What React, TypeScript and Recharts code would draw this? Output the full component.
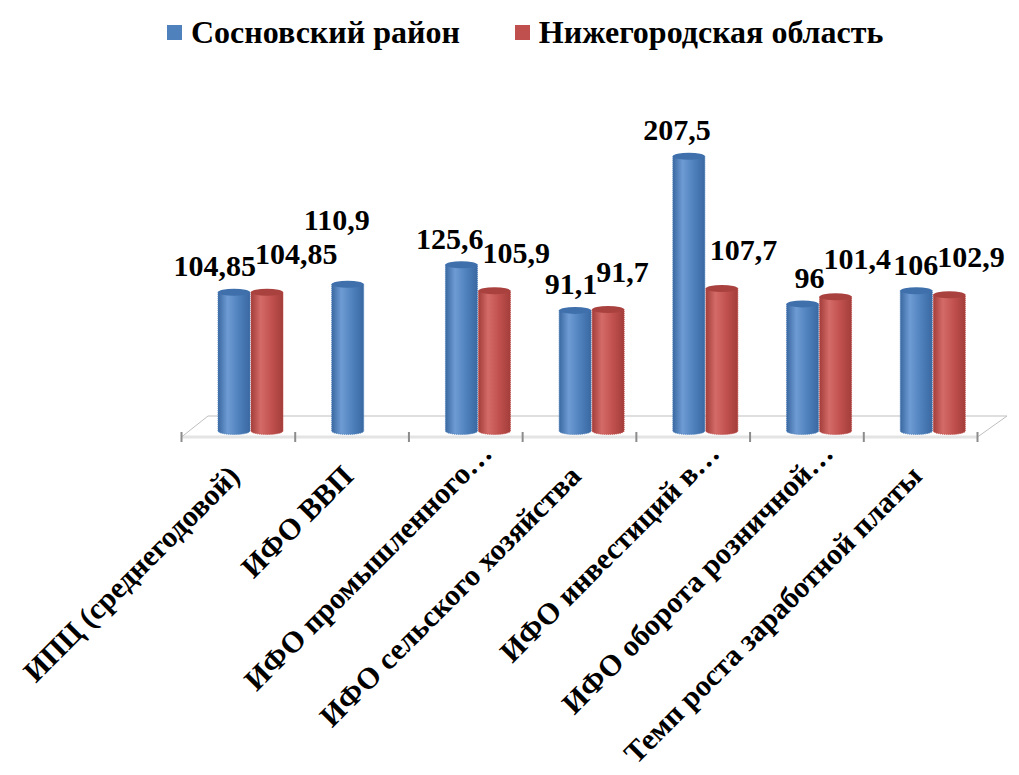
import React from 'react';
import { BarChart, Bar, XAxis, YAxis, Legend, LabelList } from 'recharts';

// Categories as they appear (truncated) on the original axis
const categories = [
  'ИПЦ (среднегодовой)',
  'ИФО ВВП',
  'ИФО промышленного…',
  'ИФО сельского хозяйства',
  'ИФО инвестиций в…',
  'ИФО оборота розничной…',
  'Темп роста заработной платы',
];

const sosnovskyValues: (number | null)[] = [104.85, 110.9, 125.6, 91.1, 207.5, 96, 106];
const oblastValues: (number | null)[] = [104.85, null, 105.9, 91.7, 107.7, 101.4, 102.9];

const seriesNames = ['Сосновский район', 'Нижегородская область'];

const data = categories.map((name, i) => ({
  name,
  sosn: sosnovskyValues[i],
  obl: oblastValues[i],
}));

const W = 1019;
const H = 775;
const PLOT_LEFT = 194;
const PLOT_RIGHT = 990;
const PLOT_TOP = 100;
const BASE_Y = 431;
const AXIS_H = 330;
const FONT = 'Liberation Serif, Times New Roman, Tinos, DejaVu Serif, serif';

const palette = {
  blue: { base: '#4F81BD', light: '#6E9BD3', dark: '#3A68A1', top: '#3F70AC' },
  red: { base: '#C0504D', light: '#D46B68', dark: '#A33E3B', top: '#A9423F' },
};

const fmt = (v: number) => String(v).replace('.', ',');

function Cylinder(props: any) {
  const { x, y, width, height, index, colors, id } = props;
  if (height == null || height <= 0 || x == null) return null;
  const gid = `${id}-${index}`;
  const rx = width / 2;
  const ry = 3.5;
  return (
    <g>
      <defs>
        <linearGradient id={gid} x1="0" y1="0" x2="1" y2="0">
          <stop offset="0" stopColor={colors.dark} />
          <stop offset="0.3" stopColor={colors.light} />
          <stop offset="0.65" stopColor={colors.base} />
          <stop offset="1" stopColor={colors.dark} />
        </linearGradient>
      </defs>
      <path
        d={`M${x},${y} L${x},${y + height} A${rx},${ry} 0 0 0 ${x + width},${y + height} L${x + width},${y} Z`}
        fill={`url(#${gid})`}
        stroke={colors.base}
        strokeWidth={1}
        strokeDasharray="1 1"
      />
      <ellipse cx={x + rx} cy={y} rx={rx} ry={ry} fill={colors.top} />
    </g>
  );
}

function ValueLabel(props: any) {
  const { x, y, width, value, index, side } = props;
  if (value == null) return null;
  const isLeft = side === 'left';
  // a bar standing alone in its category carries its label higher
  const partner = isLeft ? oblastValues[index] : sosnovskyValues[index];
  const gap = isLeft ? (partner == null ? 54 : 16) : 28;
  return (
    <text
      x={isLeft ? x + width + 6 : x + 4}
      y={y - gap}
      textAnchor={isLeft ? 'end' : 'start'}
      fontFamily={FONT}
      fontWeight="bold"
      fontSize={30}
      fill="#000"
    >
      {fmt(value)}
    </text>
  );
}

function CategoryTick(props: any) {
  const { x, y, payload } = props;
  const text: string = payload.value;
  const cut = text.endsWith('…');
  // labels sit on the front edge of the 3D floor
  const px = x - 9.5 + (cut ? 25 : 0);
  const py = y + 45 - (cut ? 23 : 0);
  return (
    <text
      x={px}
      y={py}
      transform={`rotate(-45, ${px}, ${py})`}
      textAnchor="end"
      fontFamily={FONT}
      fontWeight="bold"
      fontSize={30}
      fill="#000"
    >
      {text}
    </text>
  );
}

function LegendContent() {
  const items = [
    { name: seriesNames[0], color: palette.blue.base },
    { name: seriesNames[1], color: palette.red.base },
  ];
  return (
    <div style={{ height: PLOT_TOP, paddingLeft: 167, paddingTop: 14, boxSizing: 'border-box', display: 'flex' }}>
      {items.map((it, i) => (
        <div key={it.name} style={{ display: 'flex', alignItems: 'center', height: 36, marginRight: i === 0 ? 55 : 0 }}>
          <span style={{ display: 'inline-block', width: 15, height: 15, background: it.color, marginRight: 9 }} />
          <span style={{ fontFamily: FONT, fontWeight: 'bold', fontSize: 32, lineHeight: '36px', color: '#000' }}>
            {it.name}
          </span>
        </div>
      ))}
    </div>
  );
}

// 3D floor drawn behind the chart, from the same layout constants as the plot
function Floor() {
  const shift = 12.5;
  const frontY = BASE_Y + 6;
  const backY = BASE_Y - 15;
  const fl = PLOT_LEFT - shift;
  const fr = PLOT_RIGHT - shift;
  const bl = PLOT_LEFT + 14;
  const br = PLOT_RIGHT + 17;
  const band = (PLOT_RIGHT - PLOT_LEFT) / categories.length;
  const ticks = Array.from({ length: categories.length + 1 }, (_, i) => fl + i * band);
  return (
    <svg width={W} height={H} style={{ position: 'absolute', left: 0, top: 0 }}>
      <line x1={bl} y1={backY} x2={br} y2={backY} stroke="#bfbfbf" strokeWidth={1} />
      <line x1={fl} y1={frontY} x2={bl} y2={backY} stroke="#bfbfbf" strokeWidth={1} />
      <line x1={fr} y1={frontY} x2={br} y2={backY} stroke="#bfbfbf" strokeWidth={1} />
      <line x1={fl} y1={frontY} x2={fr} y2={frontY} stroke="#c8c8c8" strokeWidth={3} strokeDasharray="1 1" />
      {ticks.map((t) => (
        <line key={t} x1={t} y1={frontY - 5} x2={t} y2={frontY + 5} stroke="#8c8c8c" strokeWidth={2} />
      ))}
    </svg>
  );
}

export default function App() {
  return (
    <div style={{ position: 'absolute', left: 0, top: 0, width: W, height: H, background: '#fff' }}>
      <Floor />
      <div style={{ position: 'absolute', left: 0, top: 0 }}>
        <BarChart
          width={W}
          height={H}
          data={data}
          margin={{ top: 0, right: W - PLOT_RIGHT, left: PLOT_LEFT, bottom: H - BASE_Y - AXIS_H }}
          barSize={32}
          barGap={1}
        >
          <Legend
            verticalAlign="top"
            align="left"
            content={() => <LegendContent />}
            wrapperStyle={{ top: 0, left: 0, width: W }}
          />
          <XAxis
            dataKey="name"
            axisLine={false}
            tickLine={false}
            tickSize={0}
            interval={0}
            height={AXIS_H}
            tick={<CategoryTick />}
          />
          <YAxis hide domain={[0, 250]} />
          <Bar
            dataKey="sosn"
            name={seriesNames[0]}
            fill={palette.blue.base}
            isAnimationActive={false}
            shape={(p: any) => <Cylinder {...p} colors={palette.blue} id="cyl-blue" />}
          >
            <LabelList dataKey="sosn" content={(p: any) => <ValueLabel {...p} side="left" />} />
          </Bar>
          <Bar
            dataKey="obl"
            name={seriesNames[1]}
            fill={palette.red.base}
            isAnimationActive={false}
            shape={(p: any) => <Cylinder {...p} colors={palette.red} id="cyl-red" />}
          >
            <LabelList dataKey="obl" content={(p: any) => <ValueLabel {...p} side="right" />} />
          </Bar>
        </BarChart>
      </div>
    </div>
  );
}
